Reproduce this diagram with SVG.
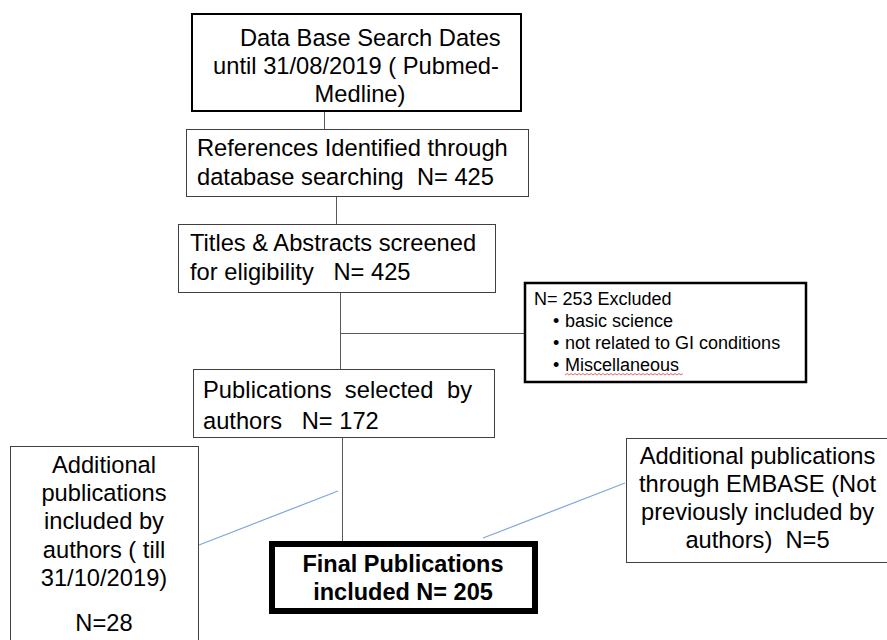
<svg xmlns="http://www.w3.org/2000/svg" width="887" height="640" viewBox="0 0 887 640">
<style>
text{font-family:"Liberation Sans",Arial,sans-serif;fill:#000;white-space:pre}
.t{font-size:23.7px}
.s{font-size:18px}
.b{font-size:23.5px;font-weight:bold}
.box{fill:#fff;stroke:#404040;stroke-width:1}
.conn{stroke:#595959;stroke-width:1;fill:none}
.blue{stroke:#7fa7d9;stroke-width:1.2;fill:none}
</style>
<rect width="887" height="640" fill="#fff"/>
<g id="connectors">
<line class="conn" x1="324.5" y1="111" x2="324.5" y2="129"/>
<line class="conn" x1="336.5" y1="197" x2="336.5" y2="224"/>
<line class="conn" x1="340.5" y1="293" x2="340.5" y2="369"/>
<line class="conn" x1="340.5" y1="333.5" x2="524" y2="333.5"/>
<line class="conn" x1="342.5" y1="438" x2="342.5" y2="541"/>
<line class="blue" x1="199" y1="545" x2="338" y2="491"/>
<line class="blue" x1="483" y1="538" x2="625" y2="483"/>
</g>
<g id="search">
<rect x="192" y="14" width="329" height="97" fill="#fff" stroke="#000" stroke-width="2"/>
<text class="t" x="240" y="46">Data Base Search Dates</text>
<text class="t" x="356" y="74" text-anchor="middle">until 31/08/2019 ( Pubmed-</text>
<text class="t" x="360" y="102" text-anchor="middle">Medline)</text>
</g>
<g id="identified">
<rect class="box" x="186.5" y="129.5" width="342" height="67"/>
<text class="t" x="197" y="156">References Identified through</text>
<text class="t" x="197" y="185">database searching  N= 425</text>
</g>
<g id="screened">
<rect class="box" x="178.5" y="224.5" width="317" height="68"/>
<text class="t" x="190" y="251">Titles &amp; Abstracts screened</text>
<text class="t" x="190" y="280">for eligibility   N= 425</text>
</g>
<g id="excluded">
<rect x="525" y="283" width="281" height="99" fill="#fff" stroke="#000" stroke-width="2.5"/>
<text class="s" x="534" y="305">N= 253 Excluded</text>
<text class="s" x="553" y="327">•</text><text class="s" x="565" y="327">basic science</text>
<text class="s" x="553" y="349">•</text><text class="s" x="565" y="349">not related to GI conditions</text>
<text class="s" x="553" y="371">•</text><text class="s" x="565" y="371">Miscellaneous</text>
<path d="M565 375 l2 -1.5 l2 1.5 l2 -1.5 l2 1.5 l2 -1.5 l2 1.5 l2 -1.5 l2 1.5 l2 -1.5 l2 1.5 l2 -1.5 l2 1.5 l2 -1.5 l2 1.5 l2 -1.5 l2 1.5 l2 -1.5 l2 1.5 l2 -1.5 l2 1.5 l2 -1.5 l2 1.5 l2 -1.5 l2 1.5 l2 -1.5 l2 1.5 l2 -1.5 l2 1.5 l2 -1.5 l2 1.5 l2 -1.5 l2 1.5 l2 -1.5 l2 1.5 l2 -1.5 l2 1.5 l2 -1.5 l2 1.5 l2 -1.5 l2 1.5 l2 -1.5 l2 1.5 l2 -1.5 l2 1.5 l2 -1.5 l2 1.5 l2 -1.5 l2 1.5 l2 -1.5 l2 1.5 l2 -1.5 l2 1.5 l2 -1.5 l2 1.5 l2 -1.5 l2 1.5 l2 -1.5 l2 1.5 l2 -1.5" fill="none" stroke="#e04040" stroke-width="0.8"/>
</g>
<g id="selected">
<rect class="box" x="193.5" y="369.5" width="301" height="68"/>
<text class="t" x="203" y="398" textLength="269" lengthAdjust="spacing">Publications  selected  by</text>
<text class="t" x="203" y="429">authors   N= 172</text>
</g>
<g id="additional-authors">
<rect class="box" x="10.5" y="446.5" width="188" height="200"/>
<text class="t" x="104" y="473" text-anchor="middle">Additional</text>
<text class="t" x="104" y="501" text-anchor="middle">publications</text>
<text class="t" x="104" y="529" text-anchor="middle">included by</text>
<text class="t" x="104" y="558" text-anchor="middle">authors ( till</text>
<text class="t" x="104" y="586" text-anchor="middle">31/10/2019)</text>
<text class="t" x="104" y="631" text-anchor="middle">N=28</text>
</g>
<g id="additional-embase">
<rect class="box" x="626.5" y="438.5" width="270" height="124"/>
<text class="t" x="757.5" y="464" text-anchor="middle">Additional publications</text>
<text class="t" x="757.5" y="492" text-anchor="middle">through EMBASE (Not</text>
<text class="t" x="757.5" y="520" text-anchor="middle">previously included by</text>
<text class="t" x="757.5" y="548" text-anchor="middle">authors)  N=5</text>
</g>
<g id="final">
<rect x="272" y="544" width="263" height="67" fill="#fff" stroke="#000" stroke-width="6"/>
<text class="b" x="403" y="572" text-anchor="middle">Final Publications</text>
<text class="b" x="403" y="600" text-anchor="middle">included N= 205</text>
</g>
</svg>
